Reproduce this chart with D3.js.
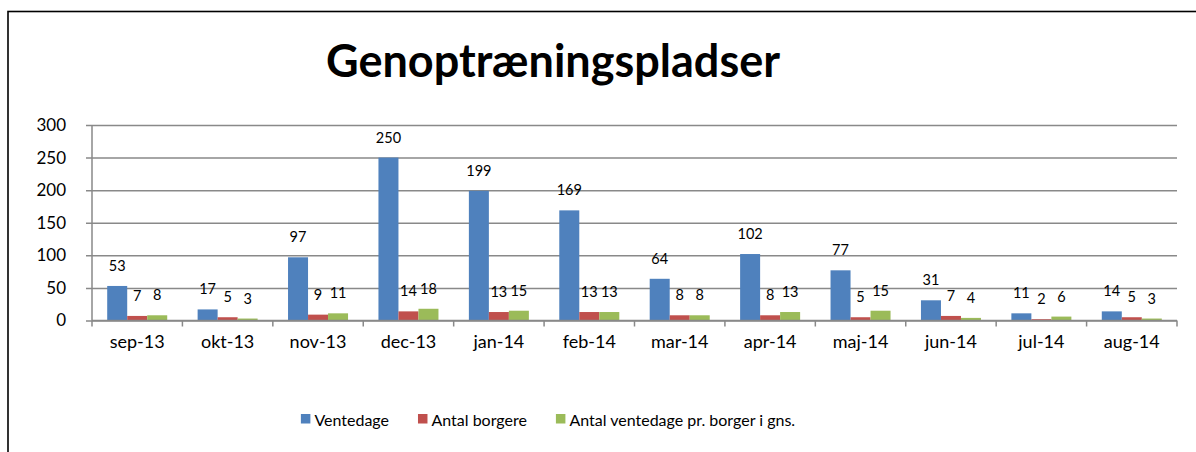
<!DOCTYPE html>
<html lang="da">
<head>
    <meta charset="UTF-8">
    <title>Genoptræningspladser</title>
    <script src="https://d3js.org/d3.v7.min.js"></script>
    <style>
        html, body {
            margin: 0;
            background: #fff;
        }
        svg text {
            font-family: Lato, "Open Sans", sans-serif;
            fill: #000;
        }
    </style>
</head>
<body>
    <div id="vis"></div>

    <script>

        // data
        var months = ["sep-13", "okt-13", "nov-13", "dec-13", "jan-14", "feb-14",
                      "mar-14", "apr-14", "maj-14", "jun-14", "jul-14", "aug-14"];
        var ventedage = [53, 17, 97, 250, 199, 169, 64, 102, 77, 31, 11, 14];
        var borgere   = [7, 5, 9, 14, 13, 13, 8, 8, 5, 7, 2, 5];
        var gnsVentedage = [8, 3, 11, 18, 15, 13, 8, 13, 15, 4, 6, 3];
        var seriesNames = ["Ventedage", "Antal borgere", "Antal ventedage pr. borger i gns."];
        var yTicks = [0, 50, 100, 150, 200, 250, 300];

        var colors = ["#4f81bd", "#c0504d", "#9bbb59"];
        var allSeries = [ventedage, borgere, gnsVentedage];

        /*
         *  DECLARATION BLOCK
         */
        var view_width = 1196, view_height = 452;
        var plot = {left: 92, right: 1177, top: 125, bottom: 320.5};
        var centerX = 548;

        var svg = d3.select('#vis')
            .append('svg')
                .attr('width', view_width)
                .attr('height', view_height);

        // outer chart border (runs off the right and bottom of the picture)
        svg.append('rect')
            .attr('x', 8)
            .attr('y', 11.5)
            .attr('width', 1300)
            .attr('height', 600)
            .attr('fill', 'none')
            .attr('stroke', '#000')
            .attr('stroke-width', 1.6);

        svg.append('text')
            .attr('x', centerX + 5)
            .attr('y', 77)
            .attr('text-anchor', 'middle')
            .style('font-size', '45px')
            .style('font-weight', 'bold')
            .text('Genoptræningspladser');

        var x0 = d3.scaleBand()
            .domain(months)
            .range([plot.left, plot.right]);

        var x1 = d3.scaleBand()
            .domain(seriesNames)
            .range([0, x0.bandwidth()])
            .paddingOuter(0.76);

        var y = d3.scaleLinear()
            .domain([0, 300])
            .range([plot.bottom, plot.top]);

        // gridlines + y labels
        var yAxis = d3.axisLeft(y)
            .tickValues(yTicks)
            .tickSize(-(plot.right - plot.left))
            .tickSizeOuter(0)
            .tickPadding(26);

        var gy = svg.append('g')
            .attr('class', 'y axis')
            .attr('transform', 'translate(' + plot.left + ',0)')
            .call(yAxis);
        gy.select('.domain').remove();
        gy.selectAll('.tick line')
            .attr('x1', -6)
            .attr('stroke', '#898989')
            .attr('stroke-width', 1.5);
        gy.selectAll('.tick text')
            .style('font-size', '17px')
            .style('font-family', 'Lato, sans-serif');

        svg.append('line')
            .attr('x1', plot.left).attr('x2', plot.left)
            .attr('y1', plot.top).attr('y2', plot.bottom)
            .attr('stroke', '#898989')
            .attr('stroke-width', 1.5);

        // bars
        var groups = svg.append('g').selectAll('g')
            .data(months)
            .enter().append('g')
                .attr('transform', function(d) { return 'translate(' + x0(d) + ',0)'; });

        groups.selectAll('rect')
            .data(function(d, i) {
                return allSeries.map(function(s, k) { return {name: seriesNames[k], value: s[i], k: k}; });
            })
            .enter().append('rect')
                .attr('x', function(d) { return x1(d.name); })
                .attr('y', function(d) { return y(d.value); })
                .attr('width', x1.bandwidth())
                .attr('height', function(d) { return y(0) - y(d.value); })
                .attr('fill', function(d) { return colors[d.k]; });

        groups.selectAll('text.val')
            .data(function(d, i) {
                return allSeries.map(function(s, k) { return {name: seriesNames[k], value: s[i]}; });
            })
            .enter().append('text')
                .attr('class', 'val')
                .attr('x', function(d) { return x1(d.name) + x1.bandwidth() / 2; })
                .attr('y', function(d) { return y(d.value) - 15; })
                .attr('text-anchor', 'middle')
                .style('font-size', '14.5px')
                .text(function(d) { return d.value; });

        // x axis
        var xAxis = d3.axisBottom(x0)
            .tickSize(0)
            .tickPadding(15);

        var gx = svg.append('g')
            .attr('class', 'x axis')
            .attr('transform', 'translate(0,' + plot.bottom + ')')
            .call(xAxis);
        gx.select('.domain')
            .attr('d', 'M' + plot.left + ',0H' + plot.right)
            .attr('stroke', '#898989')
            .attr('stroke-width', 1.5);
        gx.selectAll('.tick text')
            .style('font-size', '18px')
            .style('font-family', 'Lato, sans-serif');

        // category separators below the axis
        var seps = months.map(function(m) { return x0(m); }).concat([plot.right]);
        gx.selectAll('line.sep')
            .data(seps)
            .enter().append('line')
                .attr('class', 'sep')
                .attr('x1', function(d) { return d; })
                .attr('x2', function(d) { return d; })
                .attr('y1', 0)
                .attr('y2', 6)
                .attr('stroke', '#898989')
                .attr('stroke-width', 1.5);

        // legend, centred under the chart
        var legend = svg.append('g').attr('class', 'legend');
        var items = legend.selectAll('g')
            .data(seriesNames)
            .enter().append('g');
        items.append('rect')
            .attr('width', 9.5)
            .attr('height', 9.5)
            .attr('y', 414)
            .attr('fill', function(d, i) { return colors[i]; });
        items.append('text')
            .attr('x', 13.5)
            .attr('y', 425.5)
            .style('font-size', '16px')
            .text(function(d) { return d; });

        var xpos = 0, widths = [];
        items.each(function() {
            widths.push(13.5 + d3.select(this).select('text').node().getComputedTextLength());
        });
        var total = d3.sum(widths) + 29 * (widths.length - 1);
        xpos = centerX - total / 2;
        items.attr('transform', function(d, i) {
            var t = 'translate(' + xpos + ',0)';
            xpos += widths[i] + 29;
            return t;
        });

    </script>
</body>
</html>
